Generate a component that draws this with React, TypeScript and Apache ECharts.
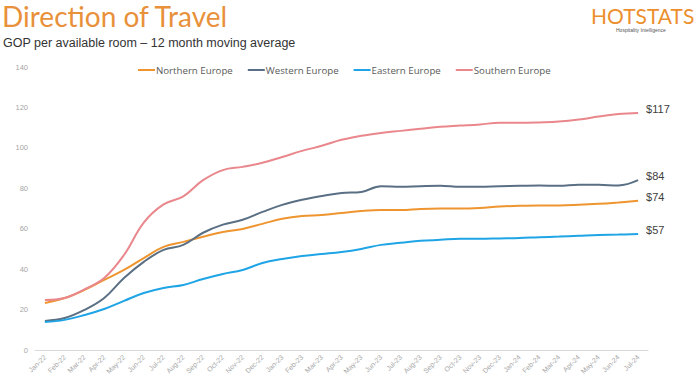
import React, { useEffect, useRef } from "react";
import * as echarts from "echarts";

const months = [
  "Jan-22", "Feb-22", "Mar-22", "Apr-22", "May-22", "Jun-22", "Jul-22", "Aug-22", "Sep-22", "Oct-22", "Nov-22", "Dec-22",
  "Jan-23", "Feb-23", "Mar-23", "Apr-23", "May-23", "Jun-23", "Jul-23", "Aug-23", "Sep-23", "Oct-23", "Nov-23", "Dec-23",
  "Jan-24", "Feb-24", "Mar-24", "Apr-24", "May-24", "Jun-24", "Jul-24",
];

const northern = [
  23.3, 25.7, 29.7, 34.7, 39.6, 45.5, 51.0, 53.5, 56.0, 58.4, 59.9, 62.4,
  64.9, 66.3, 66.8, 67.8, 68.8, 69.3, 69.3, 69.8, 70.0, 70.0, 70.3, 71.0,
  71.3, 71.5, 71.5, 71.8, 72.3, 73.0, 73.8,
];
const western = [
  14.4, 15.8, 19.8, 25.7, 35.6, 43.6, 49.5, 52.0, 58.0, 62.0, 64.4, 68.3,
  71.8, 74.3, 76.2, 77.7, 78.2, 81.0, 80.7, 81.0, 81.2, 80.7, 80.7, 81.0,
  81.2, 81.4, 81.2, 81.7, 81.7, 81.4, 84.0,
];
const eastern = [
  13.9, 14.9, 17.3, 20.3, 24.3, 28.2, 30.7, 32.2, 35.1, 37.6, 39.6, 43.0,
  45.0, 46.5, 47.5, 48.5, 50.0, 52.0, 53.0, 54.0, 54.5, 55.0, 55.0, 55.2,
  55.4, 55.8, 56.1, 56.5, 56.9, 57.1, 57.4,
];
const southern = [
  24.7, 25.7, 30.0, 35.6, 47.0, 63.0, 72.0, 76.0, 84.0, 89.0, 90.6, 92.6,
  95.5, 98.5, 101.0, 104.0, 106.0, 107.4, 108.4, 109.4, 110.4, 111.0, 111.6, 112.4,
  112.4, 112.6, 113.0, 114.0, 115.5, 116.8, 117.3,
];

const seriesNames = ["Northern Europe", "Western Europe", "Eastern Europe", "Southern Europe"];
const seriesColors = ["#EF9530", "#5A6F83", "#1FA5E6", "#E9878C"];
const yTicks = { min: 0, max: 140, interval: 20 };

export default function App() {
  const ref = useRef<HTMLDivElement>(null);
  useEffect(() => {
    if (!ref.current) return;
    const chart = echarts.init(ref.current, null, { renderer: "svg" });
    const data = [northern, western, eastern, southern];
    chart.setOption({
      animation: false,
      backgroundColor: "#ffffff",
      title: [
        {
          text: "Direction of Travel",
          left: 2,
          top: 2,
          padding: 0,
          textStyle: { color: "#E8913A", fontSize: 28, fontWeight: "normal", fontFamily: "Lato" },
        },
        {
          text: "GOP per available room – 12 month moving average",
          left: 3,
          top: 36,
          padding: 0,
          textStyle: { color: "#333333", fontSize: 12.5, fontWeight: "normal", fontFamily: "Liberation Sans" },
        },
      ],
      graphic: [
        {
          type: "text",
          left: 591,
          top: 5,
          style: { text: "HOTSTATS", fill: "#EC8F2E", font: "normal 21px Lato" },
        },
        {
          type: "text",
          left: 616,
          top: 27,
          style: { text: "Hospitality Intelligence", fill: "#555555", font: "normal 5px 'Liberation Sans'" },
        },
      ],
      legend: {
        top: 60,
        left: 133,
        itemWidth: 17,
        itemHeight: 2,
        itemGap: 15,
        icon: "rect",
        textStyle: { color: "#595959", fontSize: 9.7, fontFamily: "Open Sans", padding: [0, 0, 0, -4] },
        data: seriesNames,
      },
      grid: { left: 35, right: 52, top: 67, bottom: 35, containLabel: false },
      xAxis: {
        type: "category",
        data: months,
        boundaryGap: true,
        axisLine: { show: true, lineStyle: { color: "#D9D9D9", width: 1 } },
        axisTick: { show: false },
        axisLabel: { rotate: 45, color: "#A6A6A6", fontSize: 7, interval: 0, margin: 6, fontFamily: "Liberation Sans" },
        splitLine: { show: false },
      },
      yAxis: {
        type: "value",
        min: yTicks.min,
        max: yTicks.max,
        interval: yTicks.interval,
        axisLine: { show: false },
        axisTick: { show: false },
        splitLine: { show: false },
        axisLabel: { color: "#A6A6A6", fontSize: 7.5, margin: 7, fontFamily: "Liberation Sans" },
      },
      series: seriesNames.map((name, i) => ({
        name,
        type: "line",
        data: data[i],
        smooth: 0.4,
        showSymbol: false,
        symbol: "none",
        lineStyle: { color: seriesColors[i], width: 2 },
        itemStyle: { color: seriesColors[i] },
        endLabel: {
          show: true,
          formatter: (p: any) => "$" + Math.round(p.value),
          color: "#404040",
          fontSize: 11,
          fontFamily: "Liberation Sans",
          distance: 8,
          offset: [0, -4],
        },
      })),
    });
    return () => chart.dispose();
  }, []);
  return <div ref={ref} style={{ position: "absolute", left: 0, top: 0, width: 700, height: 385 }} />;
}
